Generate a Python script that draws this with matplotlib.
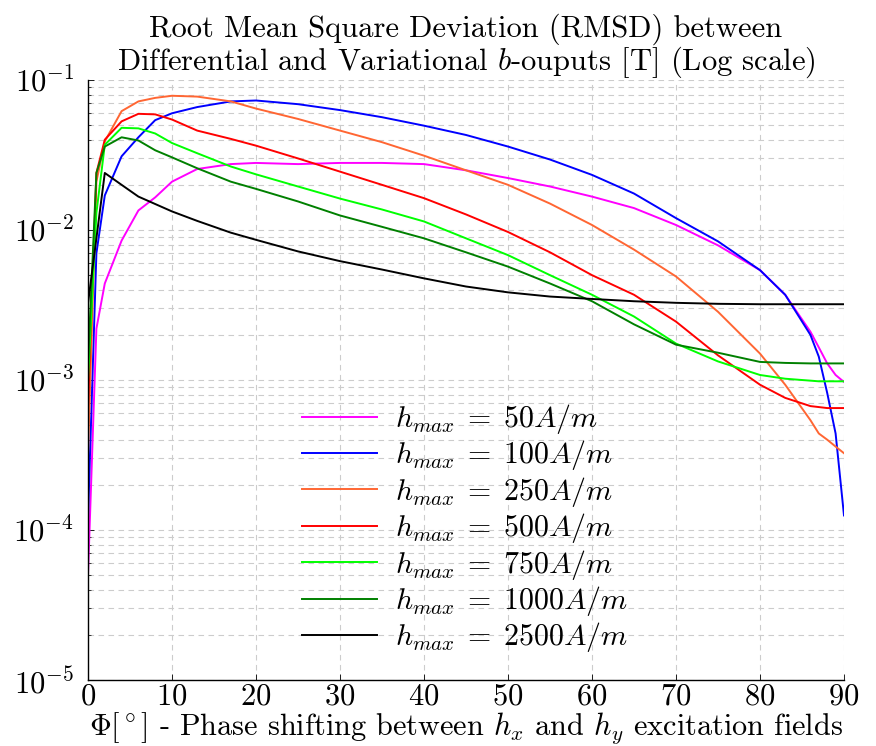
import matplotlib
matplotlib.use("Agg")
import matplotlib.pyplot as plt
from matplotlib.ticker import LogLocator, NullFormatter, MultipleLocator

plt.rcParams["font.family"] = "serif"
plt.rcParams["font.serif"] = ["cmr10"]
plt.rcParams["mathtext.fontset"] = "cm"
plt.rcParams["axes.formatter.use_mathtext"] = True
plt.rcParams["axes.unicode_minus"] = False

# phase shift (degrees) at which each RMSD was sampled
phi = [0, 1, 2, 4, 6, 8, 10, 13, 17, 20, 25, 30, 35, 40, 45, 50, 55, 60,
       65, 70, 75, 80, 83, 86, 87, 88, 89, 90]

rmsd_50 = [5e-5, 2.2e-3, 4.4e-3, 8.5e-3, 1.35e-2, 1.65e-2, 2.1e-2, 2.55e-2,
           2.75e-2, 2.8e-2, 2.75e-2, 2.8e-2, 2.8e-2, 2.75e-2, 2.5e-2, 2.22e-2,
           1.95e-2, 1.67e-2, 1.4e-2, 1.08e-2, 7.9e-3, 5.4e-3, 3.7e-3, 2.1e-3,
           1.65e-3, 1.29e-3, 1.08e-3, 9.7e-4]
rmsd_100 = [1.2e-4, 7e-3, 1.7e-2, 3.1e-2, 4.15e-2, 5.4e-2, 6.0e-2, 6.6e-2,
            7.2e-2, 7.3e-2, 6.9e-2, 6.3e-2, 5.65e-2, 4.96e-2, 4.3e-2, 3.6e-2,
            2.95e-2, 2.33e-2, 1.75e-2, 1.2e-2, 8.4e-3, 5.4e-3, 3.7e-3, 2.0e-3,
            1.43e-3, 8.2e-4, 4.4e-4, 1.25e-4]
rmsd_250 = [3.2e-4, 2.1e-2, 3.9e-2, 6.2e-2, 7.2e-2, 7.6e-2, 7.85e-2, 7.75e-2,
            7.2e-2, 6.45e-2, 5.5e-2, 4.6e-2, 3.85e-2, 3.13e-2, 2.5e-2, 2.0e-2,
            1.5e-2, 1.08e-2, 7.4e-3, 4.9e-3, 2.85e-3, 1.5e-3, 9.3e-4, 5.4e-4,
            4.4e-4, 4.0e-4, 3.6e-4, 3.25e-4]
rmsd_500 = [6.5e-4, 2.4e-2, 4.0e-2, 5.3e-2, 5.95e-2, 5.9e-2, 5.45e-2, 4.6e-2,
            4.05e-2, 3.65e-2, 3.0e-2, 2.45e-2, 2.0e-2, 1.63e-2, 1.27e-2, 9.7e-3,
            7.1e-3, 5.0e-3, 3.7e-3, 2.45e-3, 1.46e-3, 9.3e-4, 7.6e-4, 6.7e-4,
            6.6e-4, 6.5e-4, 6.5e-4, 6.5e-4]
rmsd_750 = [9.8e-4, 1.3e-2, 3.7e-2, 4.8e-2, 4.76e-2, 4.4e-2, 3.8e-2, 3.25e-2,
            2.65e-2, 2.35e-2, 1.95e-2, 1.62e-2, 1.37e-2, 1.14e-2, 8.8e-3, 6.8e-3,
            5.0e-3, 3.7e-3, 2.65e-3, 1.75e-3, 1.33e-3, 1.08e-3, 1.02e-3, 9.9e-4,
            9.8e-4, 9.8e-4, 9.8e-4, 9.8e-4]
rmsd_1000 = [1.3e-3, 2.4e-2, 3.6e-2, 4.15e-2, 3.95e-2, 3.4e-2, 3.05e-2, 2.58e-2,
             2.1e-2, 1.88e-2, 1.55e-2, 1.25e-2, 1.05e-2, 8.8e-3, 7.1e-3, 5.7e-3,
             4.4e-3, 3.35e-3, 2.35e-3, 1.72e-3, 1.52e-3, 1.32e-3, 1.3e-3, 1.29e-3,
             1.29e-3, 1.29e-3, 1.29e-3, 1.29e-3]
rmsd_2500 = [3.25e-3, 8.8e-3, 2.4e-2, 2.0e-2, 1.67e-2, 1.49e-2, 1.33e-2, 1.15e-2,
             9.6e-3, 8.6e-3, 7.2e-3, 6.2e-3, 5.45e-3, 4.76e-3, 4.2e-3, 3.84e-3,
             3.6e-3, 3.47e-3, 3.35e-3, 3.27e-3, 3.22e-3, 3.2e-3, 3.2e-3, 3.2e-3,
             3.2e-3, 3.2e-3, 3.2e-3, 3.2e-3]

h_max = [50, 100, 250, 500, 750, 1000, 2500]
series = [rmsd_50, rmsd_100, rmsd_250, rmsd_500, rmsd_750, rmsd_1000, rmsd_2500]
colors = ["#ff00ff", "#0000ff", "#ff6633", "#ff0000", "#00ff00", "#008000", "#000000"]

fig = plt.figure(figsize=(8.76, 7.46), dpi=100)
ax = fig.add_axes([88 / 876, 1 - 680 / 746, 756 / 876, 600 / 746])

for h, vals, c in zip(h_max, series, colors):
    ax.plot(phi, vals, color=c, lw=1.4, label=rf"$h_{{max}} \;=\; {h}A/m$")

ax.set_yscale("log")
ax.set_xlim(0, 90)
ax.set_ylim(1e-5, 1e-1)
ax.xaxis.set_major_locator(MultipleLocator(10))
ax.yaxis.set_major_locator(LogLocator(base=10, numticks=10))
ax.yaxis.set_minor_locator(LogLocator(base=10, subs=range(2, 10), numticks=50))
ax.yaxis.set_minor_formatter(NullFormatter())

grid_kw = dict(color="#cccccc", linestyle=(0, (5, 4)), linewidth=0.8)
ax.grid(True, which="major", axis="both", **grid_kw)
ax.grid(True, which="minor", axis="y", **grid_kw)
ax.set_axisbelow(True)

for side in ("top", "right"):
    ax.spines[side].set_visible(False)
for side in ("left", "bottom"):
    ax.spines[side].set_linewidth(1.0)

ax.tick_params(axis="both", which="major", direction="in", length=4, width=0.6,
               labelsize=22, pad=2)
ax.tick_params(axis="y", which="minor", direction="in", length=2.5, width=0.5)
ax.tick_params(axis="y", which="major", pad=10)

ax.set_xlabel(r"$\Phi[^\circ]$ - Phase shifting between $h_x$ and $h_y$ excitation fields",
              fontsize=21.8, labelpad=0)
ax.set_title("Root Mean Square Deviation (RMSD) between\n"
             "Differential and Variational $b$-ouputs [T] (Log scale)",
             fontsize=22, pad=4, linespacing=1.0)

ax.legend(loc="center left", bbox_to_anchor=(0.283, 0.253), frameon=False,
          fontsize=21.5, handlelength=2.5, handletextpad=0.62, labelspacing=0.08,
          borderpad=0, borderaxespad=0)

fig.savefig("out.png", dpi=100)
